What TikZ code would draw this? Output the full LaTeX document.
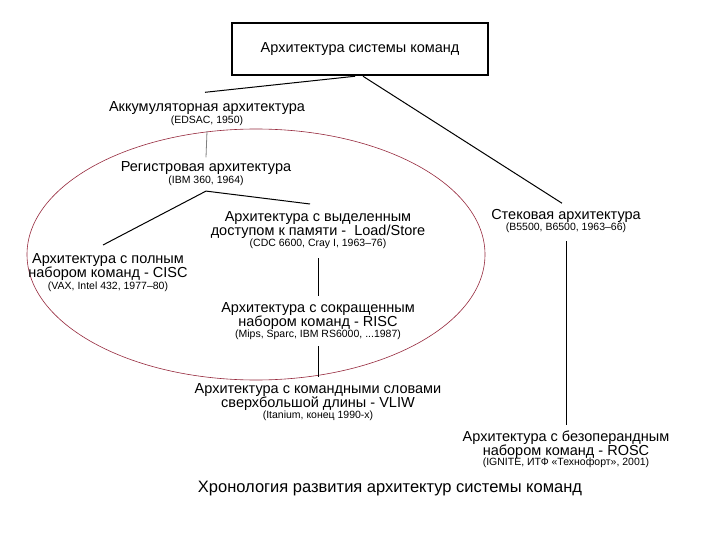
\documentclass[tikz,border=0pt]{standalone}
\usepackage{fontspec}
\setmainfont{Liberation Sans}
\begin{document}
\begin{tikzpicture}[x=1pt,y=-1pt,
  mainlbl/.style={align=center,inner sep=0pt,font=\fontsize{14.5}{14}\selectfont},
  notelbl/.style={inner sep=0pt,font=\fontsize{10.5}{12}\selectfont},
  conn/.style={line width=1pt,black},
  grayconn/.style={line width=0.8pt,gray},
  ring/.style={line width=0.6pt,draw={rgb,255:red,150;green,40;blue,60}}]
\useasboundingbox[fill=white] (0,0) rectangle (720,540);
% title box
\node[draw,line width=2.5pt,minimum width=256pt,minimum height=52pt,inner sep=0pt,
      font=\fontsize{14.5}{15}\selectfont] (title) at (360,49) {Архитектура системы команд};
% ellipse
\draw[ring] (256,254.5) ellipse [x radius=229, y radius=125.5];
% nodes
\node[mainlbl] (acc) at (207,108) {Аккумуляторная архитектура};
\node[notelbl] (accN) at (207,121) {(EDSAC, 1950)};
\node[mainlbl] (reg) at (206,168) {Регистровая архитектура};
\node[notelbl] (regN) at (206,181) {(IBM 360, 1964)};
\node[mainlbl,anchor=north] (ls) at (318,211) {Архитектура с выделенным\\доступом к памяти -\ \ Load/Store};
\node[notelbl] (lsN) at (318,244) {(CDC 6600, Cray I, 1963–76)};
\node[mainlbl,anchor=north] (cisc) at (108,253) {Архитектура с полным\\набором команд - CISC};
\node[notelbl] (ciscN) at (108,287) {(VAX, Intel 432, 1977–80)};
\node[mainlbl,anchor=north] (risc) at (318,302) {Архитектура с сокращенным\\набором команд - RISC};
\node[notelbl] (riscN) at (318,335) {(Mips, Sparc, IBM RS6000, ...1987)};
\node[mainlbl,anchor=north] (vliw) at (318,383) {Архитектура с командными словами\\сверхбольшой длины - VLIW};
\node[notelbl] (vliwN) at (318,416) {(Itanium, конец 1990-х)};
\node[mainlbl] (stack) at (566,216) {Стековая архитектура};
\node[notelbl] (stackN) at (566,228) {(B5500, B6500, 1963–66)};
\node[mainlbl,anchor=north] (rosc) at (566,431) {Архитектура с безоперандным\\набором команд - ROSC};
\node[notelbl] (roscN) at (566,463) {(IGNITE, ИТФ «Технофорт», 2001)};
\node[inner sep=0pt,font=\fontsize{16.5}{18}\selectfont] (cap) at (390,489) {Хронология развития архитектур системы команд};
% connectors
\coordinate (p) at ([yshift=-5pt]regN.south);
\draw[conn] ([xshift=-5pt]title.south) -- ([xshift=-2pt,yshift=9pt]acc.north);
\draw[conn] ([xshift=3pt]title.south) -- ([xshift=-4pt,yshift=6pt]stack.north);
\draw[grayconn] ([yshift=-5pt]accN.south) -- ([yshift=4pt]reg.north);
\draw[conn] (p) -- ([xshift=-5pt,yshift=8pt]cisc.north);
\draw[conn] (p) -- ([xshift=-8pt,yshift=7pt]ls.north);
\draw[conn] ([yshift=-9pt]lsN.south) -- ([yshift=6pt]risc.north);
\draw[conn] ([yshift=-6pt]riscN.south) -- ([yshift=6pt]vliw.north);
\draw[conn] ([yshift=-8pt]stackN.south) -- ([yshift=6pt]rosc.north);
\end{tikzpicture}
\end{document}
